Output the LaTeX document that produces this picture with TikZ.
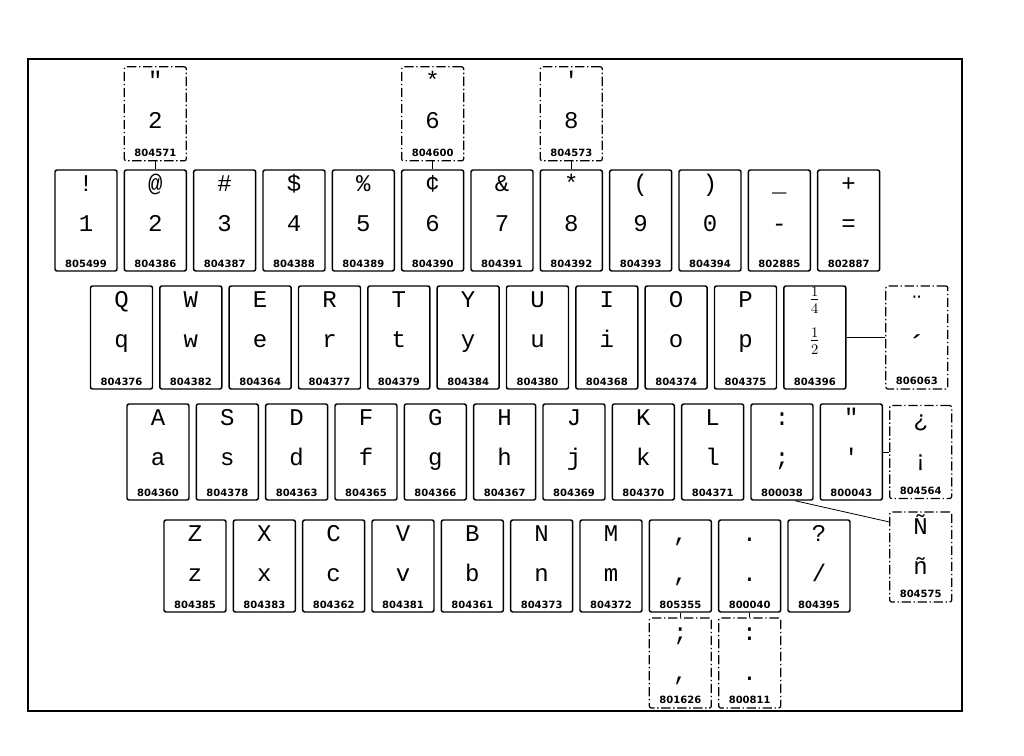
\documentclass[tikz,border=0pt]{standalone}
\usepackage{fontspec}
\usepackage{amsmath}
\usepackage{tikz}
\usetikzlibrary{positioning,calc}
\newfontfamily\charfont{Liberation Mono}
\newfontfamily\numfont{DejaVu Sans}

% one key: name, options, upper, lower, part number
\newcommand{\keycap}[5]{%
  \node[#2] (#1) {};
  \node[chr] (#1u) at ([yshift=-17pt]#1.north) {#3};
  \node[chr] (#1l) at ([yshift=-47pt]#1.north) {#4};
  \node[pno] (#1n) at ([yshift=3.5pt]#1.south) {#5};
}

\begin{document}
\begin{tikzpicture}[x=0.75pt, y=-0.75pt]
\tikzstyle{key}=[draw, rectangle, rounded corners=1.5pt, line width=1.1pt, minimum width=46.5pt, inner sep=0pt, node distance=52pt]
\tikzstyle{rowa}=[key, minimum height=75.75pt]
\tikzstyle{rowb}=[key, minimum height=77.25pt]
\tikzstyle{rowc}=[key, minimum height=72pt]
\tikzstyle{rowd}=[key, minimum height=69pt]
\tikzstyle{alt}=[key, line width=.9pt, dash pattern=on 7pt off 2pt on 1pt off 2pt]
\tikzstyle{chr}=[anchor=base, inner sep=0pt, font=\charfont\fontsize{18}{20}\selectfont]
\tikzstyle{pno}=[anchor=base, inner sep=0pt, font=\numfont\bfseries\fontsize{7.5}{9}\selectfont]
\tikzstyle{lnk}=[line width=.6pt]
\tikzstyle{frame}=[line width=.8pt]

\useasboundingbox (0,0) rectangle (1024,756);
\draw[frame] (28,59) rectangle (962,711);

% number row
\keycap{K1}{rowa, at={(86,220.5)}}{!}{1}{805499}
\keycap{K2}{rowa, right of = K1}{@}{2}{804386}
\keycap{K3}{rowa, right of = K2}{\#}{3}{804387}
\keycap{K4}{rowa, right of = K3}{\$}{4}{804388}
\keycap{K5}{rowa, right of = K4}{\%}{5}{804389}
\keycap{K6}{rowa, right of = K5}{¢}{6}{804390}
\keycap{K7}{rowa, right of = K6}{\&}{7}{804391}
\keycap{K8}{rowa, right of = K7}{*}{8}{804392}
\keycap{K9}{rowa, right of = K8}{(}{9}{804393}
\keycap{K0}{rowa, right of = K9}{)}{0}{804394}
\keycap{Kmin}{rowa, right of = K0}{\_}{-}{802885}
\keycap{Keq}{rowa, right of = Kmin}{+}{=}{802887}

% top row
\keycap{Q}{rowb, at={(121.5,337.5)}}{Q}{q}{804376}
\keycap{W}{rowb, right of = Q}{W}{w}{804382}
\keycap{E}{rowb, right of = W}{E}{e}{804364}
\keycap{R}{rowb, right of = E}{R}{r}{804377}
\keycap{T}{rowb, right of = R}{T}{t}{804379}
\keycap{Y}{rowb, right of = T}{Y}{y}{804384}
\keycap{U}{rowb, right of = Y}{U}{u}{804380}
\keycap{I}{rowb, right of = U}{I}{i}{804368}
\keycap{O}{rowb, right of = I}{O}{o}{804374}
\keycap{P}{rowb, right of = O}{P}{p}{804375}
\keycap{Frac}{rowb, right of = P}{{\fontsize{16}{18}\selectfont\raisebox{2pt}{$\frac{1}{4}$}}}{{\fontsize{16}{18}\selectfont\raisebox{1pt}{$\frac{1}{2}$}}}{804396}

% home row
\keycap{A}{rowc, at={(158,452)}}{A}{a}{804360}
\keycap{S}{rowc, right of = A}{S}{s}{804378}
\keycap{D}{rowc, right of = S}{D}{d}{804363}
\keycap{F}{rowc, right of = D}{F}{f}{804365}
\keycap{G}{rowc, right of = F}{G}{g}{804366}
\keycap{H}{rowc, right of = G}{H}{h}{804367}
\keycap{J}{rowc, right of = H}{J}{j}{804369}
\keycap{K}{rowc, right of = J}{K}{k}{804370}
\keycap{L}{rowc, right of = K}{L}{l}{804371}
\keycap{Semi}{rowc, right of = L}{:}{;}{800038}
\keycap{Quot}{rowc, right of = Semi}{"}{'}{800043}

% bottom row
\keycap{Z}{rowd, at={(195,566)}}{Z}{z}{804385}
\keycap{X}{rowd, right of = Z}{X}{x}{804383}
\keycap{C}{rowd, right of = X}{C}{c}{804362}
\keycap{V}{rowd, right of = C}{V}{v}{804381}
\keycap{B}{rowd, right of = V}{B}{b}{804361}
\keycap{N}{rowd, right of = B}{N}{n}{804373}
\keycap{M}{rowd, right of = N}{M}{m}{804372}
\keycap{Comma}{rowd, right of = M}{,}{,}{805355}
\keycap{Dot}{rowd, right of = Comma}{.}{.}{800040}
\keycap{Slash}{rowd, right of = Dot}{?}{/}{804395}

% alternate keys
\keycap{Alt2}{alt, minimum height=70.5pt, node distance=80pt, above of = K2}{"}{2}{804571}
\keycap{Alt6}{alt, minimum height=70.5pt, node distance=80pt, above of = K6}{*}{6}{804600}
\keycap{Alt8}{alt, minimum height=70.5pt, node distance=80pt, above of = K8}{'}{8}{804573}
\keycap{AltAcc}{rowb, alt, node distance=76.5pt, right of = Frac}{\raisebox{-3pt}{¨}}{\raisebox{-7pt}{\fontsize{24}{26}\selectfont ´}}{806063}
\keycap{AltInv}{alt, minimum height=69.75pt, right of = Quot}{¿}{¡}{804564}
\keycap{AltN}{alt, minimum height=67.5pt, node distance=78.75pt, below of = AltInv}{Ñ}{ñ}{804575}
\keycap{AltSemi}{alt, minimum height=67.5pt, node distance=72.75pt, below of = Comma}{;}{,}{801626}
\keycap{AltDot}{alt, minimum height=67.5pt, node distance=72.75pt, below of = Dot}{:}{.}{800811}

\draw[lnk] (Alt2) -- (K2);
\draw[lnk] (Alt6) -- (K6);
\draw[lnk] (Alt8) -- (K8);
\draw[lnk] (Frac) -- (AltAcc);
\draw[lnk] (Quot) -- (AltInv);
\draw[lnk] (Semi.-75) -- (AltN.132);
\draw[lnk] (Comma) -- (AltSemi);
\draw[lnk] (Dot) -- (AltDot);
\end{tikzpicture}
\end{document}
